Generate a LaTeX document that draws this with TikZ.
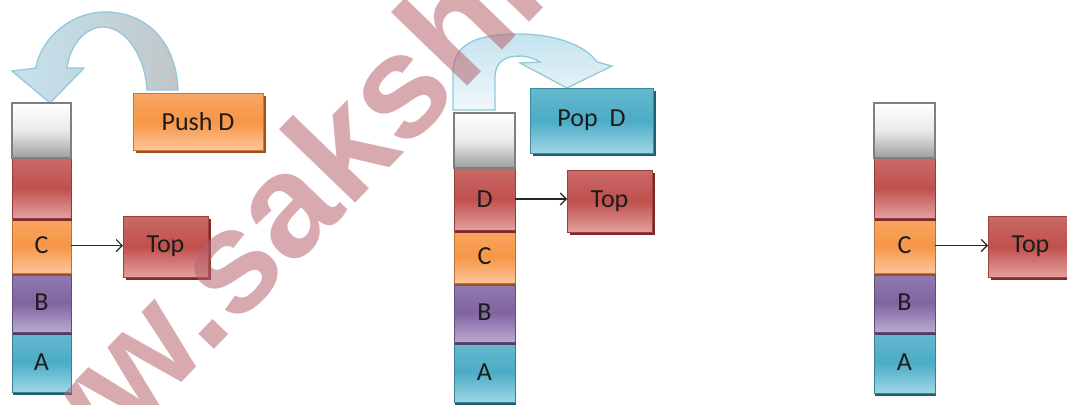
\documentclass[tikz,border=0pt]{standalone}
\usepackage{fontspec}
\setmainfont{Carlito}
\newfontfamily\wmfont{Liberation Sans}
\usetikzlibrary{arrows.meta,shadows}
\definecolor{redM}{HTML}{C0504D}
\definecolor{redL}{HTML}{E3A09E}
\definecolor{redD}{HTML}{7F2A28}
\definecolor{orgM}{HTML}{F79646}
\definecolor{orgL}{HTML}{FBC49A}
\definecolor{orgD}{HTML}{A0501A}
\definecolor{purM}{HTML}{8064A2}
\definecolor{purL}{HTML}{B9AACF}
\definecolor{purD}{HTML}{4F3D66}
\definecolor{cyaM}{HTML}{4BACC6}
\definecolor{cyaL}{HTML}{9ED6E5}
\definecolor{cyaD}{HTML}{21606F}
\definecolor{gryD}{HTML}{7F7F7F}
\definecolor{txt}{HTML}{1C1C1C}
\definecolor{arrB}{HTML}{C4E3EE}
\definecolor{arrG}{HTML}{C2C5C7}
\definecolor{arrE}{HTML}{93C8DB}
\definecolor{wm}{HTML}{B8646C}
\tikzset{
  base/.style={inner sep=0pt, outer sep=0pt, anchor=north west,
    font=\fontsize{26}{28}\selectfont, text=txt},
  blk/.style={base, draw=#1M!75!black, line width=0.8pt,
    top color=#1M!85!white, bottom color=#1L, middle color=#1M,
    drop shadow={shadow xshift=1pt, shadow yshift=-2.5pt, fill=#1D, opacity=1}},
  wblk/.style={base, draw=gryD, line width=1.3pt,
    top color=white, bottom color=black!38, middle color=white!92!black},
  lbl/.style={base, draw=#1M!80!black, line width=0.8pt,
    top color=#1M!85!white, bottom color=#1L, middle color=#1M,
    drop shadow={shadow xshift=3pt, shadow yshift=-3pt, fill=#1D, opacity=1}},
  conn/.style={-{Straight Barb[length=6pt,width=12pt]}, line width=1.1pt, draw=black!85},
  bigarrow/.style={draw=arrE, line width=1.3pt}
}
\begin{document}
\begin{tikzpicture}[x=1pt,y=-1pt]
\useasboundingbox (0,0) rectangle (1067,404);
\clip (0,0) rectangle (1067,404);
\fill[white] (0,0) rectangle (1067,404);

% push arrow
\path[bigarrow, left color=arrB, right color=arrG, middle color=arrB!55!arrG]
  (178,90) .. controls (176,40) and (145,12) .. (105,12)
  .. controls (70,12) and (40,40) .. (36,68) -- (12,71) -- (50,103) -- (84,68) -- (67,68)
  .. controls (70,45) and (85,27) .. (103,27)
  .. controls (125,27) and (145,55) .. (147,90) -- cycle;

% pop arrow
\path[bigarrow, top color=arrB, bottom color=arrB!25!white]
  (453,110) -- (453,72) .. controls (453,40) and (485,34) .. (518,34)
  .. controls (555,34) and (585,45) .. (597,62) -- (612,66) -- (567,88) -- (520,63) -- (540,62)
  .. controls (530,55) and (512,54) .. (503,60)
  .. controls (497,64) and (495,70) .. (495,78) -- (495,110) -- cycle;

% left stack
\node[blk=cya, minimum width=59pt, minimum height=60pt] (lA) at (12,332) {A};
\node[blk=pur, minimum width=59pt, minimum height=59pt] (lB) at (12,273) {B};
\node[blk=org, minimum width=59pt, minimum height=55pt] (lC) at (12,218) {C};
\node[blk=red, minimum width=59pt, minimum height=60pt] (lR) at (12,158) {};
\node[wblk, minimum width=59pt, minimum height=55pt] (lW) at (12,103) {};
\node[lbl=org, minimum width=130pt, minimum height=57pt] (push) at (133,93) {Push D};
\node[lbl=red, minimum width=85pt, minimum height=61pt] (lTop) at (123,216) {Top};
\draw[conn] (lC.east) -- (lC.east -| lTop.west);

% middle stack
\node[blk=cya, minimum width=61pt, minimum height=60pt] (mA) at (454,342) {A};
\node[blk=pur, minimum width=61pt, minimum height=59pt] (mB) at (454,283) {B};
\node[blk=org, minimum width=61pt, minimum height=53pt] (mC) at (454,230) {C};
\node[blk=red, minimum width=61pt, minimum height=62pt] (mD) at (454,168) {D};
\node[wblk, minimum width=61pt, minimum height=55pt] (mW) at (454,113) {};
\node[lbl=cya, minimum width=123pt, minimum height=65pt] (pop) at (530,88) {Pop\ \ D};
\node[lbl=red, minimum width=85pt, minimum height=62pt] (mTop) at (567,170) {Top};
\draw[conn] (mD.east) -- (mD.east -| mTop.west);

% right stack
\node[blk=cya, minimum width=61pt, minimum height=61pt] (rA) at (874,332) {A};
\node[blk=pur, minimum width=61pt, minimum height=59pt] (rB) at (874,273) {B};
\node[blk=org, minimum width=61pt, minimum height=55pt] (rC) at (874,218) {C};
\node[blk=red, minimum width=61pt, minimum height=60pt] (rR) at (874,158) {};
\node[wblk, minimum width=61pt, minimum height=55pt] (rW) at (874,103) {};
\node[lbl=red, minimum width=85pt, minimum height=61pt] (rTop) at (988,216) {Top};
\draw[conn] (rC.east) -- (rC.east -| rTop.west);

% watermark
\node[inner sep=0pt, anchor=base west, rotate=46, text=wm, opacity=0.55,
  font=\wmfont\bfseries\fontsize{146}{150}\selectfont] (wmk) at (-26,598) {www.sakshie};
\end{tikzpicture}
\end{document}
